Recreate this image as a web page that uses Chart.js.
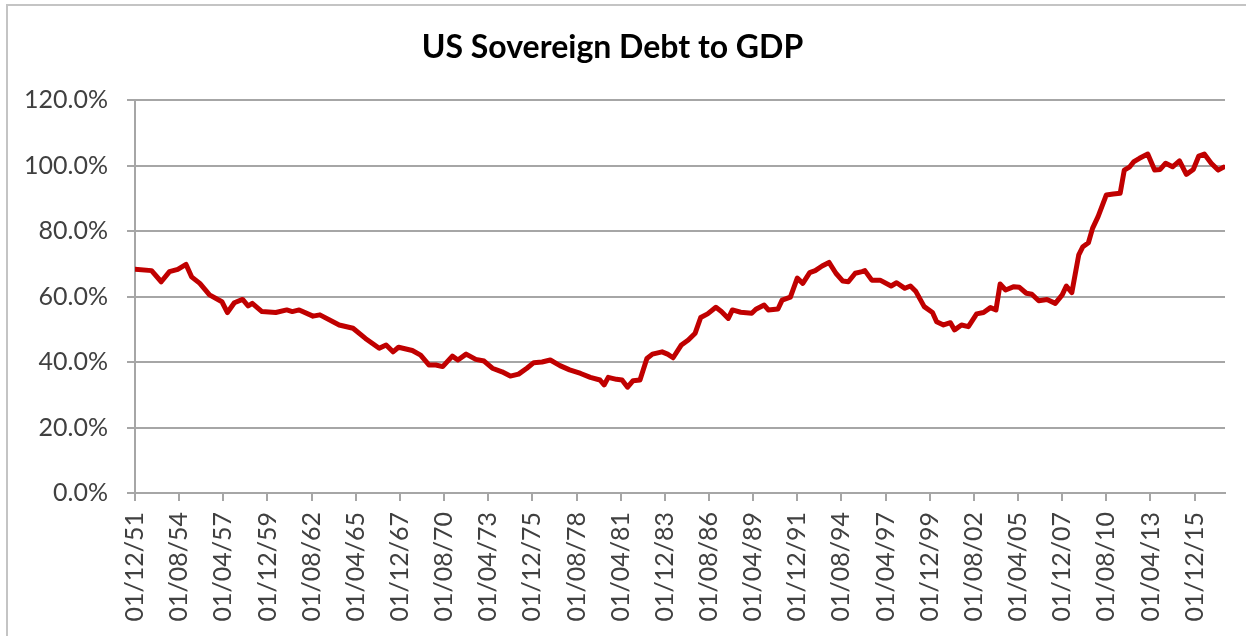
<!DOCTYPE html>
<html>
<head>
<meta charset="utf-8">
<script src="https://cdn.jsdelivr.net/npm/chart.js@4.4.1/dist/chart.umd.min.js"></script>
<style>
  html, body { margin: 0; padding: 0; background: #fff; overflow: hidden; }
  #frame { position: absolute; left: 6px; top: 4px; width: 1260px; height: 650px; border: 2px solid #c4c4c4; box-sizing: border-box; }
  #chartDiv { position: absolute; left: 0; top: 0; width: 1246px; height: 636px; }
</style>
</head>
<body>
<div id="frame"></div>
<div id="chartDiv"><canvas id="myChart"></canvas></div>
<script>
// debt / GDP readings, year-month and percent
const dates = [
  '1951-12','1952-12','1953-07','1954-01','1954-07','1955-01','1955-05','1955-11','1956-06','1957-03',
  '1957-07','1957-12','1958-06','1958-10','1959-01','1959-08','1960-06','1961-02','1961-06','1961-11',
  '1962-09','1963-02','1964-04','1965-02','1965-11','1966-09','1967-02','1967-07','1967-11','1968-09',
  '1969-03','1969-09','1970-02','1970-07','1971-02','1971-06','1971-12','1972-07','1973-01','1973-07',
  '1974-02','1974-08','1975-02','1975-08','1976-01','1976-07','1977-01','1977-08','1978-03','1978-11',
  '1979-06','1980-01','1980-04','1980-07','1981-01','1981-05','1981-09','1982-01','1982-06','1982-11',
  '1983-03','1983-10','1984-02','1984-06','1984-12','1985-05','1985-10','1986-02','1986-07','1987-01',
  '1987-05','1987-10','1988-01','1988-07','1989-03','1989-06','1989-12','1990-03','1990-10','1991-01',
  '1991-07','1991-12','1992-04','1992-09','1993-01','1993-06','1993-11','1994-04','1994-09','1995-01',
  '1995-06','1995-11','1996-01','1996-06','1996-12','1997-08','1997-12','1998-06','1998-10','1999-02',
  '1999-08','2000-02','2000-05','2000-10','2001-03','2001-06','2001-11','2002-04','2002-10','2003-03',
  '2003-08','2003-12','2004-03','2004-07','2005-01','2005-05','2005-10','2006-02','2006-07','2007-01',
  '2007-07','2007-12','2008-03','2008-07','2008-12','2009-03','2009-07','2009-10','2010-02','2010-08',
  '2011-01','2011-06','2011-09','2012-01','2012-04','2012-08','2013-02','2013-07','2013-11','2014-03',
  '2014-08','2015-01','2015-06','2015-11','2016-03','2016-07','2016-12','2017-05','2017-09'
];

const debtToGdp = [
  68.3, 67.9, 64.5, 67.6, 68.3, 69.8, 66.0, 64.0, 60.5, 58.4,
  55.1, 58.1, 59.1, 57.1, 57.9, 55.4, 55.1, 55.9, 55.4, 55.9,
  54.0, 54.4, 51.3, 50.3, 47.2, 44.2, 45.2, 43.1, 44.5, 43.5,
  42.1, 39.1, 39.1, 38.6, 41.8, 40.6, 42.4, 40.8, 40.3, 38.1,
  37.0, 35.7, 36.3, 38.1, 39.8, 40.0, 40.6, 38.9, 37.6, 36.5,
  35.3, 34.5, 33.0, 35.3, 34.7, 34.5, 32.3, 34.3, 34.5, 41.1,
  42.4, 43.1, 42.4, 41.3, 45.2, 46.7, 48.8, 53.6, 54.7, 56.7,
  55.4, 53.3, 55.9, 55.2, 54.9, 56.1, 57.4, 55.9, 56.2, 58.9,
  59.8, 65.6, 64.0, 67.3, 67.9, 69.3, 70.4, 67.1, 64.7, 64.5,
  67.1, 67.6, 67.9, 65.0, 65.0, 63.2, 64.2, 62.5, 63.2, 61.5,
  56.9, 55.1, 52.3, 51.3, 52.0, 49.8, 51.3, 50.8, 54.7, 55.1,
  56.6, 55.9, 63.8, 62.0, 63.0, 62.8, 61.0, 60.7, 58.7, 59.1,
  57.9, 60.5, 63.2, 61.2, 72.7, 75.2, 76.4, 80.8, 84.4, 91.0,
  91.3, 91.5, 98.6, 99.6, 101.2, 102.2, 103.5, 98.6, 98.8, 100.7,
  99.6, 101.4, 97.3, 98.8, 102.9, 103.5, 100.7, 98.6, 99.5
];

const tickLabels = [
  '01/12/51','01/08/54','01/04/57','01/12/59','01/08/62','01/04/65','01/12/67','01/08/70',
  '01/04/73','01/12/75','01/08/78','01/04/81','01/12/83','01/08/86','01/04/89','01/12/91',
  '01/08/94','01/04/97','01/12/99','01/08/02','01/04/05','01/12/07','01/08/10','01/04/13','01/12/15'
];

const yTicks = [0, 20, 40, 60, 80, 100, 120];

const lastMonth = 790;   // axis runs a little past the last label

// months counted from Dec 1951
function monthIndex(y, m) {
  return (y - 1951) * 12 + (m - 12);
}
function fromIso(s) {
  const [y, m] = s.split('-').map(Number);
  return monthIndex(y, m);
}
function fromLabel(s) {
  const [, mm, yy] = s.split('/').map(Number);
  return monthIndex(yy >= 50 ? 1900 + yy : 2000 + yy, mm);
}

const tickMonths = tickLabels.map(fromLabel);
const points = dates.map((d, i) => ({ x: fromIso(d), y: debtToGdp[i] }));

const gridGrey = '#a6a6a6';
const textGrey = '#404040';
const tickFont = { family: 'Lato', size: 25 };

var ctx = document.getElementById('myChart');

var options = {
  responsive: true,
  maintainAspectRatio: false,
  animation: false,
  layout: { padding: { left: 0, right: 21, top: 0, bottom: 0 } },
  plugins: {
    legend: { display: false },
    tooltip: { enabled: false },
    title: {
      display: true,
      text: 'US Sovereign Debt to GDP',
      color: '#000',
      font: { family: 'Lato', size: 32, weight: 'bold' },
      padding: { top: 28, bottom: 33.6 }
    }
  },
  scales: {
    x: {
      type: 'linear',
      min: 0,
      max: lastMonth,
      afterBuildTicks: s => { s.ticks = tickMonths.map(v => ({ value: v })); },
      afterFit: s => { s.height = 143; },
      grid: { drawOnChartArea: false, drawTicks: true, tickLength: 8, color: gridGrey, lineWidth: 2 },
      border: { color: gridGrey, width: 2 },
      ticks: {
        autoSkip: false,
        minRotation: 90,
        maxRotation: 90,
        padding: 11,
        color: textGrey,
        font: tickFont,
        callback: (v, i) => tickLabels[i]
      }
    },
    y: {
      min: 0,
      max: 120,
      afterBuildTicks: s => { s.ticks = yTicks.map(v => ({ value: v })); },
      afterFit: s => { s.width = 135; },
      grid: { color: gridGrey, lineWidth: 2, tickLength: 8 },
      border: { color: gridGrey, width: 2 },
      ticks: {
        padding: 19,
        color: textGrey,
        font: tickFont,
        callback: v => v.toFixed(1) + '%'
      }
    }
  }
};

var debtChart = new Chart(ctx, {
  type: 'line',
  data: {
    datasets: [{
      data: points,
      borderColor: '#c00000',
      borderWidth: 5,
      pointRadius: 0,
      tension: 0,
      borderJoinStyle: 'round',
      borderCapStyle: 'round'
    }]
  },
  options: options
});
</script>
</body>
</html>
